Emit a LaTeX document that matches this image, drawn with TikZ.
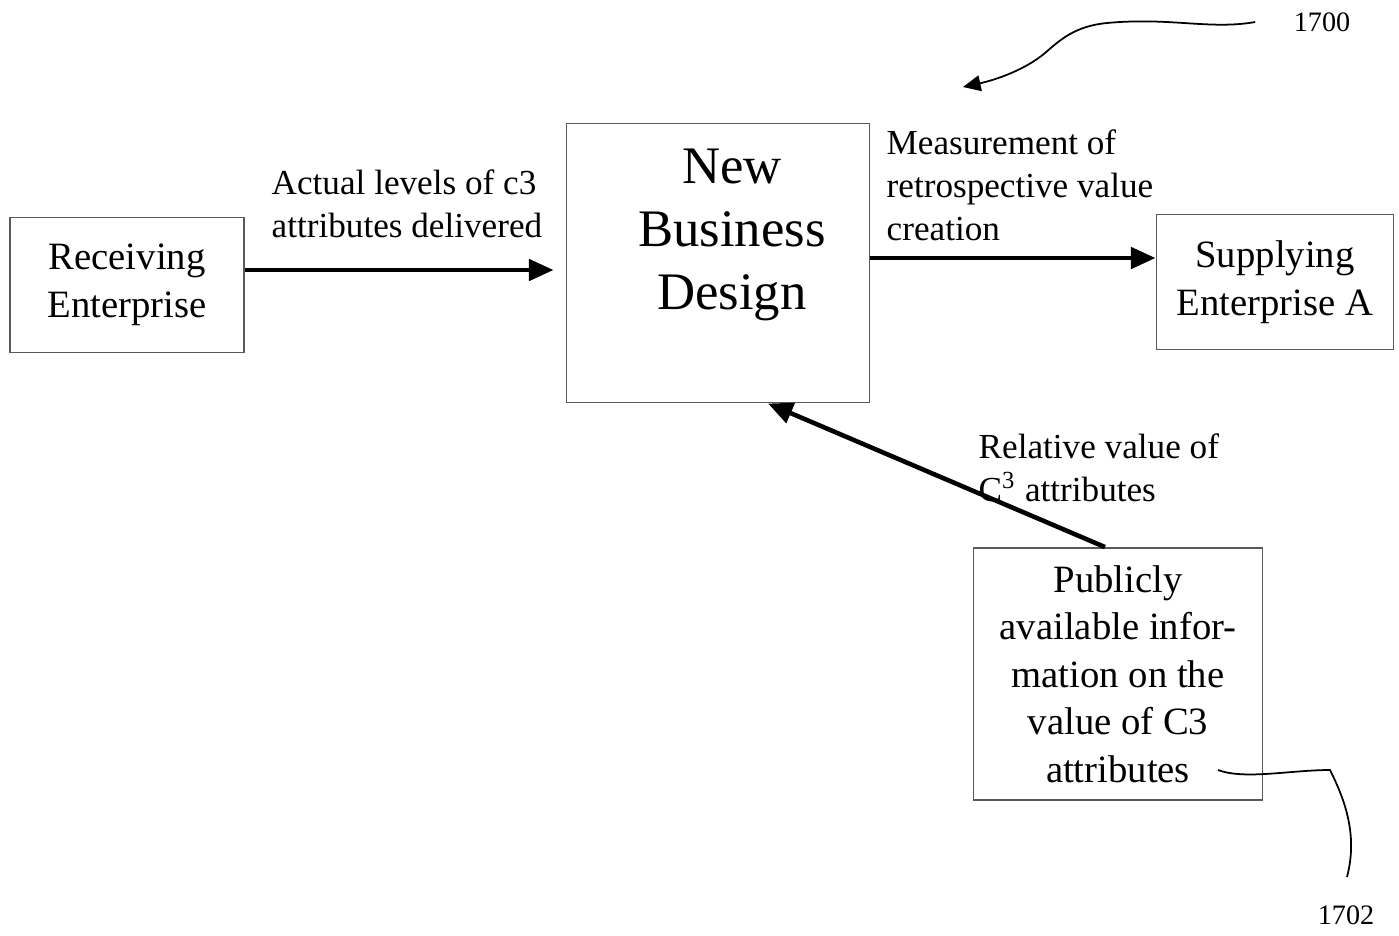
\documentclass[tikz,border=0pt]{standalone}
\usepackage{fontspec}
\setmainfont{Liberation Serif}
\usetikzlibrary{arrows.meta}

\begin{document}
\begin{tikzpicture}[
    x=0.01cm, y=-0.01cm,
    >=Triangle,
    % Style for the framed boxes
    box/.style={draw=black!65, line width=0.5pt, align=center,
        font=\fontsize{11}{13.5}\selectfont},
    % Style for the arrow labels
    lbl/.style={align=left, anchor=north west, inner sep=0pt,
        font=\fontsize{10}{12.2}\selectfont},
    % Style for the thick flow arrows
    flow/.style={-{Triangle[length=7pt, width=6pt]}, line width=1.3pt},
    % Style for the hand-drawn reference leaders
    ref/.style={line width=0.5pt},
    num/.style={inner sep=0pt, font=\fontsize{8}{10}\selectfont}
]

\useasboundingbox (0,0) rectangle (1399,935);

% --- Boxes ---
\node[box, minimum width=2.34cm, minimum height=1.35cm] (recv) at (127,285) {Receiving\\Enterprise};
\node[box, minimum width=3.03cm, minimum height=2.79cm] (nbd) at (718,263) {};
\node[align=center, font=\fontsize{15}{18}\selectfont] (nbdtext) at (732,235) {New\\Business\\Design};
\node[box, minimum width=2.37cm, minimum height=1.35cm] (supp) at (1275,282) {Supplying\\Enterprise A};
\node[box, minimum width=2.89cm, minimum height=2.52cm] (pub) at (1118,674)
    {Publicly\\available infor-\\mation on the\\value of C3\\attributes};

% --- Flow arrows ---
\draw[flow, shorten >=0.12cm] ([yshift=0.15cm]recv.east) -- ([yshift=0.15cm]recv.east -| nbd.west);
\draw[flow] ([yshift=0.05cm]nbd.east) -- ([yshift=0.05cm]nbd.east -| supp.west);
\draw[flow] ([xshift=-0.13cm]pub.north) -- ([xshift=0.5cm]nbd.south);

% --- Labels ---
\node[lbl] (actual) at (271,169) {Actual levels of c3\\attributes delivered};
\node[lbl] (meas) at (886,129) {Measurement of\\retrospective value\\creation};
\node[lbl] (rel) at (978,433) {Relative value of\\C\textsuperscript{3} attributes};

% --- Reference numerals ---
\node[num] (n1700) at (1322,22) {1700};
\node[num] (n1702) at (1346,915) {1702};
\coordinate (tip1700) at (963,87);
\coordinate (end1702) at (1347,877);

\draw[ref, -{Triangle[length=5pt, width=4.5pt]}] ([xshift=-0.38cm]n1700.west)
    .. controls (1210,30) and (1170,17) .. (1107,23)
    .. controls (1075,26) and (1060,40) .. (1045,53)
    .. controls (1025,70) and (995,80) .. (tip1700);
\draw[ref] (1218,770) .. controls (1245,780) and (1290,770) .. (1330,770)
    .. controls (1345,800) and (1358,835) .. (end1702);

\end{tikzpicture}
\end{document}
